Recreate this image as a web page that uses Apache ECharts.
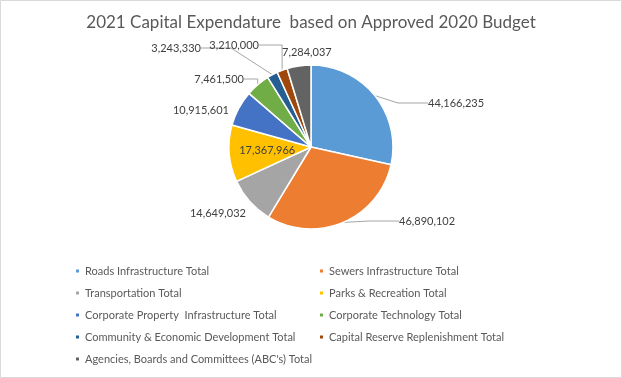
<!DOCTYPE html>
<html>
<head>
<meta charset="utf-8">
<script src="https://cdn.jsdelivr.net/npm/echarts@6/dist/echarts.min.js"></script>
<style>
html,body{margin:0;padding:0;background:#fff;}
#chart{width:622px;height:378px;}
</style>
</head>
<body>
<div id="chart"></div>
<script>
const categories = [
  'Roads Infrastructure Total',
  'Sewers Infrastructure Total',
  'Transportation Total',
  'Parks & Recreation Total',
  'Corporate Property  Infrastructure Total',
  'Corporate Technology Total',
  'Community & Economic Development Total',
  'Capital Reserve Replenishment Total',
  "Agencies, Boards and Committees (ABC's) Total"
];
const values = [44166235, 46890102, 14649032, 17367966, 10915601, 7461500, 3243330, 3210000, 7284037];
const colors = ['#5B9BD5', '#ED7D31', '#A5A5A5', '#FFC000', '#4472C4', '#70AD47', '#255E91', '#9E480E', '#636363'];
const insideLabels = ['Parks & Recreation Total'];
const noLineLabels = ['Transportation Total', 'Corporate Property  Infrastructure Total', "Agencies, Boards and Committees (ABC's) Total"];

// Excel "best fit" label placement: offset of the label anchor from the pie centre, and text alignment
const PIE_CENTER = [311, 147];
const labelPlacement = [
  { dx: 117, dy: -44, align: 'left' },
  { dx: 88, dy: 74, align: 'left' },
  { dx: -65, dy: 66, align: 'right' },
  null,
  { dx: -82, dy: -37, align: 'right' },
  { dx: -67, dy: -68, align: 'right' },
  { dx: -110, dy: -99, align: 'right' },
  { dx: -52, dy: -102, align: 'right' },
  { dx: -29, dy: -95, align: 'left' }
];

const FONT = 'Lato';
const fmt = v => v.toLocaleString('en-US');

const data = categories.map((name, i) => {
  const item = { name, value: values[i], itemStyle: { color: colors[i] } };
  if (insideLabels.includes(name)) {
    item.label = { position: 'inside' };
    item.labelLine = { show: false };
  } else if (noLineLabels.includes(name)) {
    item.labelLine = { show: false };
  }
  return item;
});

const leftNames = categories.filter((_, i) => i % 2 === 0);
const rightNames = categories.filter((_, i) => i % 2 === 1);
const legendBase = {
  orient: 'vertical',
  top: 259,
  icon: 'rect',
  itemWidth: 5,
  itemHeight: 5,
  itemGap: 8,
  selectedMode: false,
  textStyle: { fontFamily: FONT, fontSize: 11, color: '#595959', lineHeight: 14 }
};

const chart = echarts.init(document.getElementById('chart'), null, { renderer: 'canvas' });
chart.setOption({
  animation: false,
  backgroundColor: '#fff',
  graphic: [{
    type: 'rect', shape: { x: 0.5, y: 0.5, width: 621, height: 377 },
    style: { fill: 'none', stroke: '#d9d9d9', lineWidth: 1 }, silent: true
  }],
  title: {
    text: '2021 Capital Expendature  based on Approved 2020 Budget',
    left: 'center',
    top: 9,
    textStyle: { fontFamily: FONT, fontSize: 17, fontWeight: 'normal', color: '#595959' }
  },
  legend: [
    Object.assign({}, legendBase, { left: 69, data: leftNames }),
    Object.assign({}, legendBase, { left: 313, data: rightNames })
  ],
  series: [{
    type: 'pie',
    center: PIE_CENTER,
    radius: 82,
    startAngle: 90,
    clockwise: true,
    data: data,
    itemStyle: { borderColor: '#fff', borderWidth: 1.5 },
    label: {
      show: true,
      formatter: p => fmt(p.value),
      fontFamily: FONT,
      fontSize: 11,
      color: '#404040'
    },
    labelLine: {
      show: true,
      length: 12,
      length2: 30,
      lineStyle: { color: '#a6a6a6', width: 1 }
    },
    labelLayout: params => {
      const p = labelPlacement[params.dataIndex];
      if (!p) return {};
      return {
        x: PIE_CENTER[0] + p.dx,
        y: PIE_CENTER[1] + p.dy,
        align: p.align,
        verticalAlign: 'middle'
      };
    }
  }]
});
</script>
</body>
</html>
